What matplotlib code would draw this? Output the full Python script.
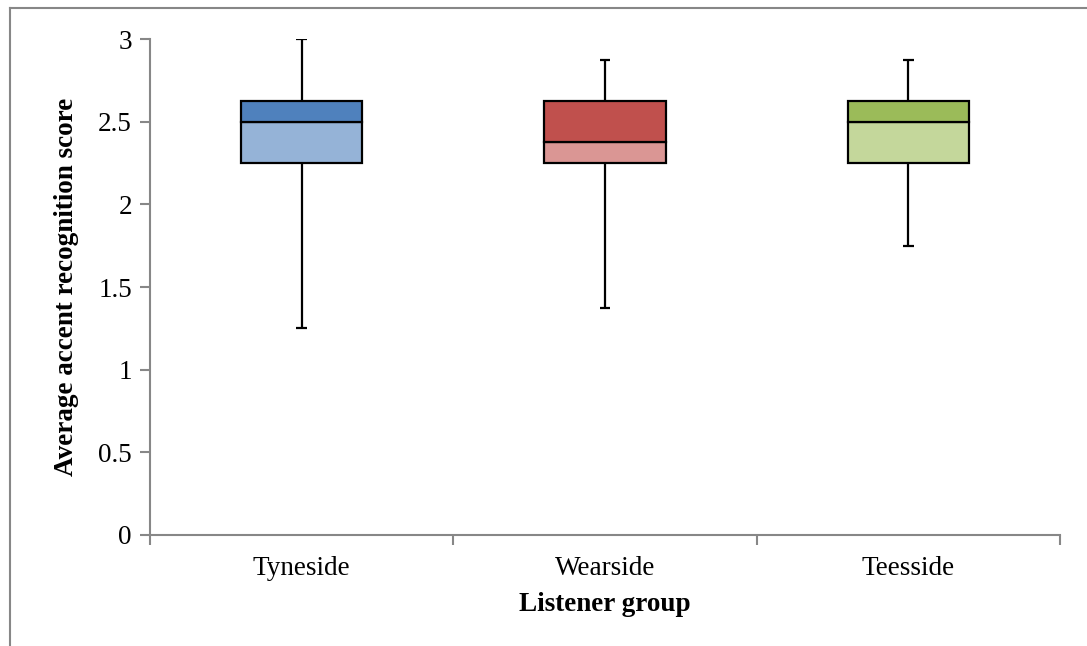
import numpy as np
import matplotlib
matplotlib.use('Agg')
import matplotlib.pyplot as plt
from matplotlib.lines import Line2D

# Five-number summaries per listener group
groups  = ['Tyneside', 'Wearside', 'Teesside']
mins    = [1.25, 1.375, 1.75]
q1      = [2.25, 2.25, 2.25]
medians = [2.5, 2.375, 2.5]
q3      = [2.625, 2.625, 2.625]
maxs    = [3.0, 2.875, 2.875]

# Lower (Q1-median) and upper (median-Q3) box colours
light = ['#95B3D7', '#DA9694', '#C4D79B']
dark  = ['#4F81BD', '#C0504D', '#9BBB59']

GREY = '#878787'
plt.rcParams['font.family'] = ['Liberation Serif', 'DejaVu Serif']

fig = plt.figure(figsize=(10.87, 6.46), dpi=100)
ax = fig.add_axes([150 / 1087, 1 - 535 / 646, 910 / 1087, 496 / 646])

x = np.arange(len(groups))
w = 0.40

lo_h = np.array(medians) - np.array(q1)
hi_h = np.array(q3) - np.array(medians)
ax.bar(x, lo_h, w, bottom=q1, color=light, edgecolor='black', linewidth=1.6, zorder=3)
ax.bar(x, hi_h, w, bottom=medians, color=dark, edgecolor='black', linewidth=1.6, zorder=3)

# whiskers and caps
ax.vlines(x, mins, q1, color='black', linewidth=1.6, zorder=2)
ax.vlines(x, q3, maxs, color='black', linewidth=1.6, zorder=2)
cap = 0.018
ax.hlines(mins, x - cap, x + cap, color='black', linewidth=1.6, zorder=2)
ax.hlines(maxs, x - cap, x + cap, color='black', linewidth=1.6, zorder=2)

ax.set_xlim(-0.5, len(groups) - 0.5)
ax.set_ylim(0, 3)
ax.set_yticks(np.arange(0, 3.01, 0.5))
ax.set_yticklabels(['0', '0.5', '1', '1.5', '2', '2.5', '3'])
ax.set_xticks(x)
ax.set_xticklabels(groups)
ax.set_xticks(np.arange(-0.5, len(groups)), minor=True)

for s in ['top', 'right']:
    ax.spines[s].set_visible(False)
for s in ['left', 'bottom']:
    ax.spines[s].set_color(GREY)
    ax.spines[s].set_linewidth(1.5)

ax.tick_params(axis='y', length=7, width=1.5, color=GREY, labelsize=19.5, pad=6)
ax.tick_params(axis='x', which='major', length=0, labelsize=19.5, pad=15)
ax.tick_params(axis='x', which='minor', length=7, width=1.5, color=GREY)

ax.set_xlabel('Listener group', fontsize=19.5, fontweight='bold', labelpad=8)
ax.set_ylabel('Average accent recognition score', fontsize=19.5, fontweight='bold', labelpad=14)

# outer chart border (left and top edges)
fig.add_artist(Line2D([9.5 / 1087, 9.5 / 1087], [0, 1 - 7.5 / 646],
                      transform=fig.transFigure, color=GREY, linewidth=1.5))
fig.add_artist(Line2D([9.5 / 1087, 1], [1 - 7.5 / 646, 1 - 7.5 / 646],
                      transform=fig.transFigure, color=GREY, linewidth=1.5))

fig.savefig('out.png', dpi=100)
